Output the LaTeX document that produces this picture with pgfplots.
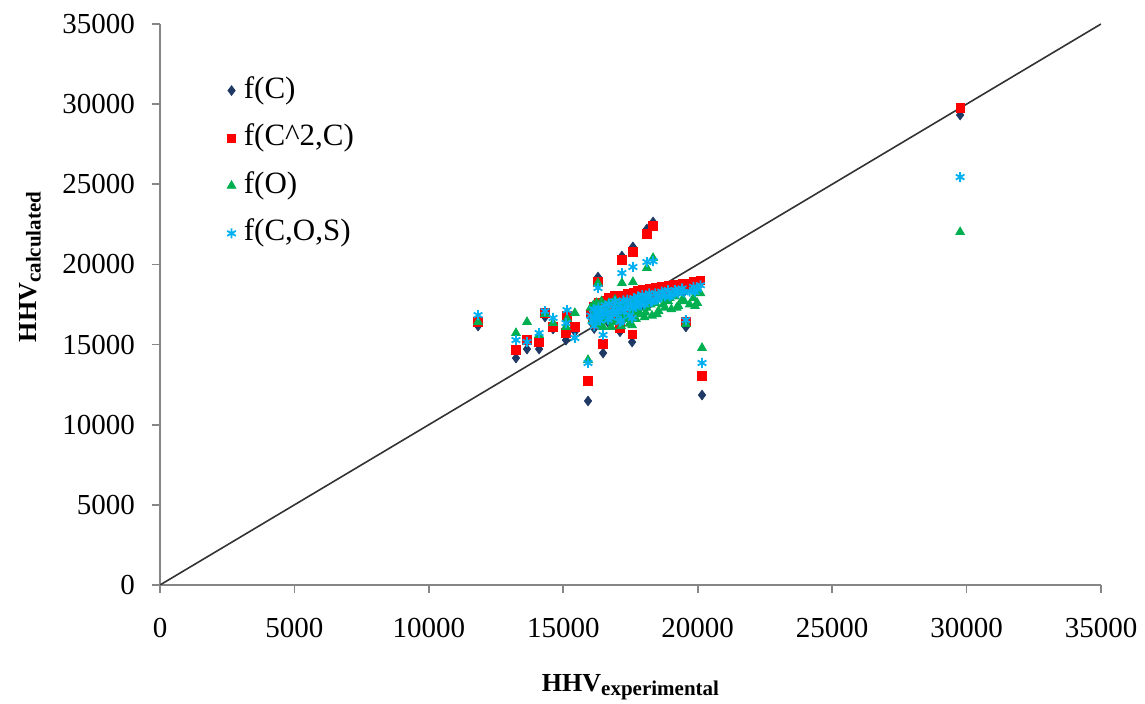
\documentclass[border=0pt]{standalone}
\usepackage{pgfplots}
\pgfplotsset{compat=1.18}
\usepackage{pgfplotstable}
\usepackage{fontspec}
\setmainfont{Liberation Serif}
\definecolor{navyd}{HTML}{1F3864}
\definecolor{redm}{HTML}{FF0000}
\definecolor{greenm}{HTML}{00B050}
\definecolor{cyanm}{HTML}{00B0F0}
\definecolor{axisgray}{HTML}{868686}

% HHV experimental vs calculated by four correlations
\pgfplotstableread{
x     C     CC    O     COS
11830 16160 16410 16410 16840
13240 14160 14660 15720 15280
13650 14720 15280 16410 15160
14100 14720 15160 15600 15720
14320 16720 16970 16910 17090
14620 15970 16100 16340 16660
15100 15280 15720 16100 16340
15140 16500 16780 16600 17150
15430 15800 16100 16970 15410
15920 11480 12730 14040 13850
16290 19210 18900 18840 18530
16480 14470 15030 16100 15600
17110 15800 16030 16500 16400
17560 15160 15650 16200 16650
17180 20520 20270 18840 19460
17590 21090 20770 18900 19840
18110 22210 21900 19780 20150
18340 22650 22400 20400 20200
19560 16100 16410 16280 16530
20160 11850 13040 14790 13850
29760 29320 29760 22020 25450
16020 16700 16950 17300 16800
16080 16300 16600 16500 16450
16120 17100 17350 17450 17200
16180 16550 16850 16300 16600
16240 16950 17200 17600 17000
16310 17350 17600 16900 17300
16360 16400 16700 16200 16500
16420 17200 17500 17700 17150
16500 16800 17100 16600 16900
16560 17500 17750 17300 17450
16630 17000 17300 16500 17000
16700 17650 17900 17600 17550
16780 16600 16900 16100 16700
16850 17300 17600 17000 17250
16920 17800 18050 17800 17700
17000 17100 17400 16500 17050
17080 17600 17850 17300 17500
17150 16400 16650 16150 16500
17230 17800 18050 17600 17750
17300 17300 17600 16800 17250
17380 17900 18150 17400 17800
17460 16700 17000 16300 16800
17540 17600 17900 17100 17550
17620 18000 18250 17500 17900
17700 17400 17700 16600 17350
17780 18100 18350 17900 18000
17860 17700 18000 16900 17600
17940 18200 18400 17700 18100
18020 17600 17900 16700 17500
18100 18000 18300 17300 17900
18200 18300 18500 17900 18200
18300 17800 18100 16800 17700
18420 18300 18550 17600 18200
18540 18000 18300 17100 17900
18660 18400 18600 17900 18300
18780 18100 18400 17300 18000
18900 18500 18700 17700 18400
19020 18200 18500 17200 18100
19150 18500 18750 18000 18400
19280 18300 18600 17400 18200
19420 18600 18800 17800 18500
19700 18500 18800 17500 18300
19840 18700 18900 17900 18600
19980 18600 18850 17600 18450
20100 18800 19000 18200 18700
16150 16000 16300 16900 16150
16270 16700 17000 17300 16750
16400 16900 17200 16700 16850
16660 16400 16700 17100 16550
16820 17100 17400 16400 17000
16980 16800 17100 17300 16850
17120 17300 17550 16700 17200
17270 17000 17300 17400 17050
17420 17500 17750 16600 17400
17580 17200 17500 17500 17250
17750 17700 17950 17000 17650
17900 17400 17700 17600 17450
18060 18100 18350 17000 17950
18250 17600 17900 17500 17650
18480 17900 18200 16900 17800
18720 18300 18550 17500 18200
18960 18000 18300 17900 18000
19220 18400 18650 17300 18300
19500 18300 18600 17700 18250
19900 18400 18700 17400 18300
}\hhvdata

\begin{document}
\begin{tikzpicture}
\useasboundingbox (-80pt,-59.5pt) rectangle (492.5pt,292.5pt);
\begin{axis}[
  scale only axis,width=470.5pt,height=280.5pt,
  at={(0pt,0pt)},anchor=south west,
  xmin=0,xmax=35000,ymin=0,ymax=35000,
  xtick={0,5000,...,35000},ytick={0,5000,...,35000},
  axis x line*=bottom,axis y line*=left,
  axis line style={draw=axisgray,line width=0.8pt,-},
  tick align=outside,major tick length=4pt,
  tick style={draw=axisgray,line width=0.8pt},
  scaled ticks=false,
  /pgf/number format/.cd,1000 sep={},assume math mode=true,/pgfplots/.cd,
  tick label style={font=\fontsize{14.5}{16}\selectfont},
  xticklabel style={yshift=-9pt},
  yticklabel style={xshift=-5pt},
  every axis x label/.style={at={(rel axis cs:0.5,0)},anchor=center,yshift=-51pt},
  every axis y label/.style={at={(rel axis cs:-0.138,0.567)},anchor=center,rotate=90},
  xlabel={\fontsize{13}{15}\selectfont\bfseries HHV\raisebox{-0.35ex}{\fontsize{10.5}{12}\selectfont experimental}},
  ylabel={\fontsize{13}{15}\selectfont\bfseries HHV\raisebox{-0.35ex}{\fontsize{10.5}{12}\selectfont calculated}},
  legend style={draw=none,fill=none,at={(0.071,0.915)},anchor=north west,inner sep=0pt,
    row sep=5.3pt,column sep=2pt,font=\fontsize{15.5}{17}\selectfont,
    nodes={inner sep=2pt,text height=11pt,text depth=3.5pt}},
  legend cell align=left,
  legend image code/.code={\draw[#1,only marks] plot coordinates {(0pt,0pt)};},
]
\addplot[only marks,mark=diamond*,mark size=2.4pt,navyd,mark options={fill=navyd,draw=navyd}] table[x=x,y=C] {\hhvdata};
\addlegendentry{f(C)}
\addplot[only marks,mark=square*,mark size=2.1pt,redm,mark options={fill=redm,draw=redm}] table[x=x,y=CC] {\hhvdata};
\addlegendentry{f(C\textasciicircum 2,C)}
\addplot[only marks,mark=triangle*,mark size=2.5pt,greenm,mark options={fill=greenm,draw=greenm}] table[x=x,y=O] {\hhvdata};
\addlegendentry{f(O)}
\addplot[only marks,mark=asterisk,mark size=2.5pt,cyanm,mark options={line width=0.9pt}] table[x=x,y=COS] {\hhvdata};
\addlegendentry{f(C,O,S)}
\addplot[forget plot,black!80,line width=0.8pt] coordinates {(0,0) (35000,35000)};
\end{axis}
\end{tikzpicture}
\end{document}
